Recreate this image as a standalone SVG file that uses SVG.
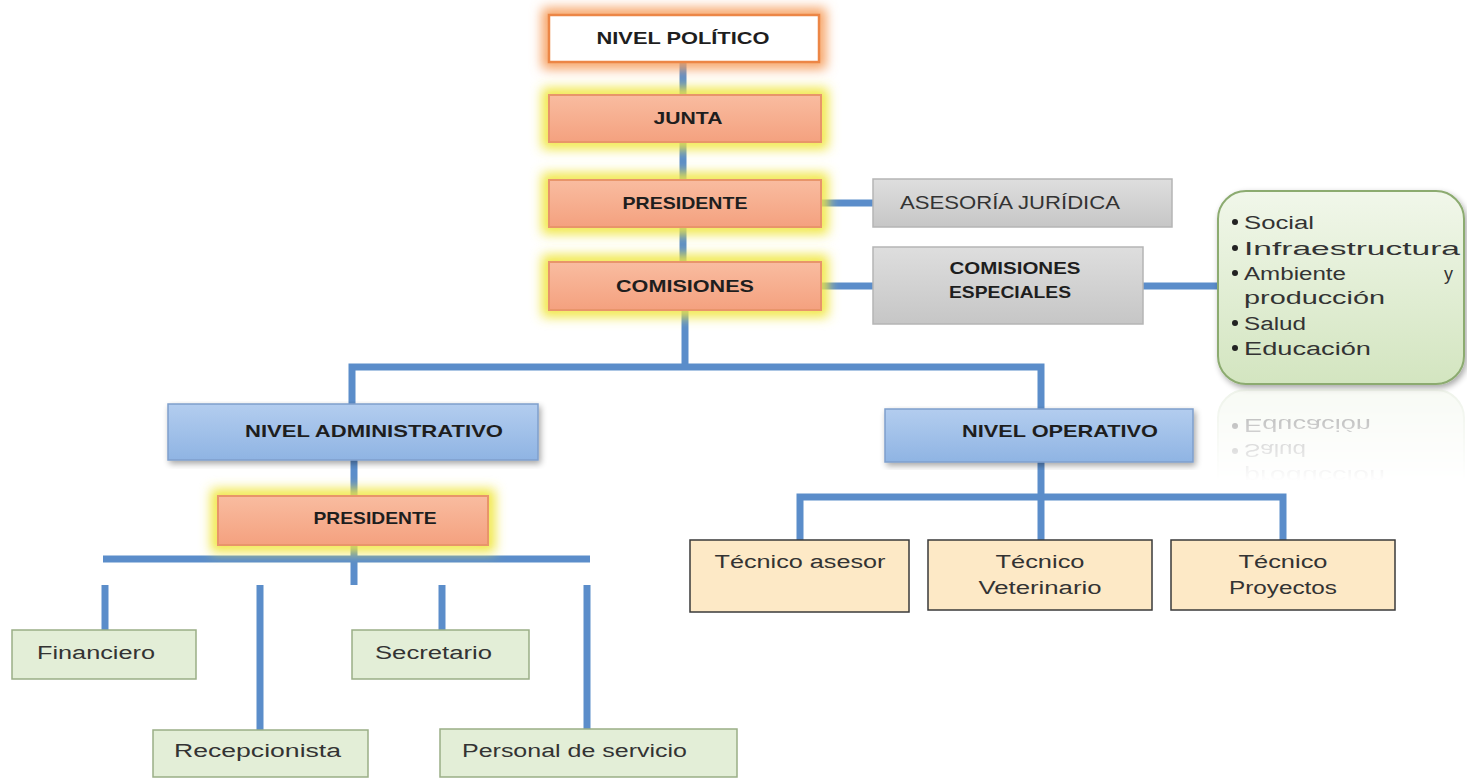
<svg xmlns="http://www.w3.org/2000/svg" width="1467" height="779" viewBox="0 0 1467 779">
<defs>
<linearGradient id="gSalmon" x1="0" y1="0" x2="0" y2="1"><stop offset="0" stop-color="#f9bca0"/><stop offset="1" stop-color="#f4a17f"/></linearGradient>
<linearGradient id="gGray" x1="0" y1="0" x2="0" y2="1"><stop offset="0" stop-color="#dedede"/><stop offset="1" stop-color="#c6c6c6"/></linearGradient>
<linearGradient id="gBlue" x1="0" y1="0" x2="0" y2="1"><stop offset="0" stop-color="#b3cdef"/><stop offset="1" stop-color="#8fb4e3"/></linearGradient>
<linearGradient id="gGreen" x1="0" y1="0" x2="0" y2="1"><stop offset="0" stop-color="#f1f7ea"/><stop offset="1" stop-color="#d3e5c0"/></linearGradient>
<linearGradient id="gFade" x1="0" y1="0" x2="0" y2="1"><stop offset="0" stop-color="#fff" stop-opacity="0.45"/><stop offset="1" stop-color="#fff" stop-opacity="0"/></linearGradient>
<filter id="glow" x="-20%" y="-60%" width="140%" height="220%"><feGaussianBlur stdDeviation="6"/></filter>
<filter id="shadow" x="-10%" y="-10%" width="125%" height="125%"><feGaussianBlur in="SourceAlpha" stdDeviation="3"/><feOffset dx="2" dy="3"/><feComponentTransfer><feFuncA type="linear" slope="0.35"/></feComponentTransfer><feMerge><feMergeNode/><feMergeNode in="SourceGraphic"/></feMerge></filter>
<mask id="refMask" maskUnits="userSpaceOnUse" x="1200" y="386" width="267" height="95"><rect x="1200" y="386" width="267" height="95" fill="url(#gFade)"/></mask>
<style>
.conn{fill:none;stroke:#5b8dca;stroke-width:7;stroke-linecap:butt}
.salmon{fill:url(#gSalmon);stroke:#e8956a;stroke-width:2}
.gl-y{fill:none;stroke:#f0e640;stroke-width:14;filter:url(#glow)}
.gl-o{fill:none;stroke:#f6a060;stroke-width:14;filter:url(#glow)}
.gray{fill:url(#gGray);stroke:#b5b5b5;stroke-width:1.5}
.blue{fill:url(#gBlue);stroke:#7f9fcc;stroke-width:1.5}
.lgreen{fill:#e3eed7;stroke:#9aae86;stroke-width:1.5}
.beige{fill:#fde9c6;stroke:#3a3a3a;stroke-width:1.5}
.b{font-family:"Liberation Sans",Arial,sans-serif;font-weight:bold;font-size:17px;fill:#1e1e1e;text-anchor:middle}
.r{font-family:"Liberation Sans",Arial,sans-serif;font-size:18px;fill:#333}
.rc{font-family:"Liberation Sans",Arial,sans-serif;font-size:18px;fill:#333;text-anchor:middle}
.li{font-family:"Liberation Sans",Arial,sans-serif;font-size:18px;fill:#333}
</style>
</defs>
<rect x="0" y="0" width="1467" height="779" fill="#ffffff"/>

<g id="connectors">
<path class="conn" d="M683,62 V95"/>
<path class="conn" d="M683,142 V180"/>
<path class="conn" d="M683,227 V262"/>
<path class="conn" d="M821,203 H873"/>
<path class="conn" d="M821,286 H873"/>
<path class="conn" d="M1143,286 H1218"/>
<path class="conn" d="M685,310 V367"/>
<path class="conn" d="M352,404 V367 H1041 V409"/>
<path class="conn" d="M354,460 V496"/>
<path class="conn" d="M103,559 H590"/>
<path class="conn" d="M354,545 V585"/>
<path class="conn" d="M105,585 V630"/>
<path class="conn" d="M260,585 V730"/>
<path class="conn" d="M442,585 V630"/>
<path class="conn" d="M587,585 V729"/>
<path class="conn" d="M1041,462 V540"/>
<path class="conn" d="M800,540 V497 H1283 V540"/>
</g>

<g id="nivel-politico">
<rect class="gl-o" x="549" y="15" width="270" height="47"/>
<rect x="549" y="15" width="270" height="47" fill="#ffffff" stroke="#ec8646" stroke-width="2.5"/>
<text class="b" x="683" y="44" textLength="173" lengthAdjust="spacingAndGlyphs">NIVEL POLÍTICO</text>
</g>

<g id="junta">
<rect class="gl-y" x="549" y="95" width="272" height="47"/>
<rect class="salmon" x="549" y="95" width="272" height="47"/>
<text class="b" x="688" y="124" textLength="69" lengthAdjust="spacingAndGlyphs">JUNTA</text>
</g>

<g id="presidente">
<rect class="gl-y" x="549" y="180" width="272" height="47"/>
<rect class="salmon" x="549" y="180" width="272" height="47"/>
<text class="b" x="685" y="209" textLength="125" lengthAdjust="spacingAndGlyphs">PRESIDENTE</text>
</g>

<g id="comisiones">
<rect class="gl-y" x="549" y="262" width="272" height="48"/>
<rect class="salmon" x="549" y="262" width="272" height="48"/>
<text class="b" x="685" y="292" textLength="138" lengthAdjust="spacingAndGlyphs">COMISIONES</text>
</g>

<g id="asesoria-juridica">
<rect class="gray" x="873" y="179" width="299" height="48"/>
<text class="rc" x="1010" y="209" fill="#4a4a4a" textLength="220" lengthAdjust="spacingAndGlyphs">ASESORÍA JURÍDICA</text>
</g>

<g id="comisiones-especiales">
<rect class="gray" x="873" y="247" width="270" height="77"/>
<text class="b" x="1015" y="274" textLength="131" lengthAdjust="spacingAndGlyphs">COMISIONES</text>
<text class="b" x="1010" y="298" textLength="122" lengthAdjust="spacingAndGlyphs">ESPECIALES</text>
</g>

<g id="lista-comisiones">
<rect x="1218" y="191" width="246" height="193" rx="28" ry="28" fill="url(#gGreen)" stroke="#8cab70" stroke-width="2" filter="url(#shadow)"/>
<circle cx="1235" cy="222" r="3" fill="#222"/>
<circle cx="1235" cy="248" r="3" fill="#222"/>
<circle cx="1235" cy="273" r="3" fill="#222"/>
<circle cx="1235" cy="323" r="3" fill="#222"/>
<circle cx="1235" cy="348" r="3" fill="#222"/>
<text class="li" x="1244" y="229" textLength="70" lengthAdjust="spacingAndGlyphs">Social</text>
<text class="li" x="1244" y="255" textLength="216" lengthAdjust="spacingAndGlyphs">Infraestructura</text>
<text class="li" x="1244" y="280" textLength="102" lengthAdjust="spacingAndGlyphs">Ambiente</text>
<text class="li" x="1444" y="280">y</text>
<text class="li" x="1244" y="304" textLength="141" lengthAdjust="spacingAndGlyphs">producción</text>
<text class="li" x="1244" y="330" textLength="62" lengthAdjust="spacingAndGlyphs">Salud</text>
<text class="li" x="1244" y="355" textLength="127" lengthAdjust="spacingAndGlyphs">Educación</text>
</g>

<g id="reflejo" mask="url(#refMask)">
<g transform="translate(0,774) scale(1,-1)">
<rect x="1218" y="191" width="246" height="193" rx="28" ry="28" fill="#eef4e7" stroke="#d9e4cf" stroke-width="2"/>
<circle cx="1235" cy="323" r="3" fill="#222"/>
<circle cx="1235" cy="348" r="3" fill="#222"/>
<text class="li" x="1244" y="304" textLength="141" lengthAdjust="spacingAndGlyphs">producción</text>
<text class="li" x="1244" y="330" textLength="62" lengthAdjust="spacingAndGlyphs">Salud</text>
<text class="li" x="1244" y="355" textLength="127" lengthAdjust="spacingAndGlyphs">Educación</text>
</g>
</g>

<g id="nivel-administrativo">
<rect class="blue" x="168" y="404" width="370" height="56" filter="url(#shadow)"/>
<text class="b" x="374" y="437" textLength="258" lengthAdjust="spacingAndGlyphs">NIVEL ADMINISTRATIVO</text>
</g>

<g id="presidente-admin">
<rect class="gl-y" x="218" y="496" width="270" height="49"/>
<rect class="salmon" x="218" y="496" width="270" height="49"/>
<text class="b" x="375" y="524" textLength="123" lengthAdjust="spacingAndGlyphs">PRESIDENTE</text>
</g>

<g id="nivel-operativo">
<rect class="blue" x="885" y="409" width="308" height="53" filter="url(#shadow)"/>
<text class="b" x="1060" y="437" textLength="196" lengthAdjust="spacingAndGlyphs">NIVEL OPERATIVO</text>
</g>

<g id="tecnico-asesor">
<rect class="beige" x="690" y="540" width="219" height="72"/>
<text class="rc" x="800" y="568" textLength="171" lengthAdjust="spacingAndGlyphs">Técnico asesor</text>
</g>

<g id="tecnico-veterinario">
<rect class="beige" x="928" y="540" width="224" height="70"/>
<text class="rc" x="1040" y="568" textLength="89" lengthAdjust="spacingAndGlyphs">Técnico</text>
<text class="rc" x="1040" y="594" textLength="123" lengthAdjust="spacingAndGlyphs">Veterinario</text>
</g>

<g id="tecnico-proyectos">
<rect class="beige" x="1171" y="540" width="224" height="70"/>
<text class="rc" x="1283" y="568" textLength="89" lengthAdjust="spacingAndGlyphs">Técnico</text>
<text class="rc" x="1283" y="594" textLength="108" lengthAdjust="spacingAndGlyphs">Proyectos</text>
</g>

<g id="financiero">
<rect class="lgreen" x="12" y="630" width="184" height="49"/>
<text class="r" x="37" y="659" textLength="118" lengthAdjust="spacingAndGlyphs">Financiero</text>
</g>

<g id="secretario">
<rect class="lgreen" x="352" y="630" width="177" height="49"/>
<text class="r" x="375" y="659" textLength="117" lengthAdjust="spacingAndGlyphs">Secretario</text>
</g>

<g id="recepcionista">
<rect class="lgreen" x="153" y="730" width="215" height="47"/>
<text class="r" x="174" y="757" textLength="167" lengthAdjust="spacingAndGlyphs">Recepcionista</text>
</g>

<g id="personal-servicio">
<rect class="lgreen" x="440" y="729" width="297" height="48"/>
<text class="r" x="462" y="757" textLength="225" lengthAdjust="spacingAndGlyphs">Personal de servicio</text>
</g>
</svg>
